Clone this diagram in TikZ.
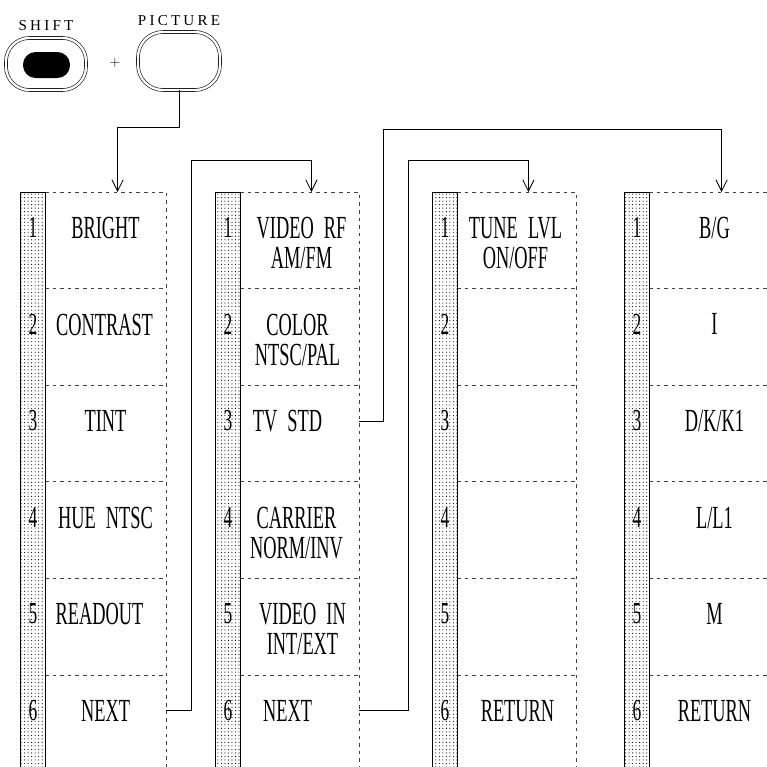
\documentclass[tikz,border=0pt]{standalone}
\usepackage{fontspec}
\usetikzlibrary{positioning, calc, arrows.meta, patterns}
\newfontfamily\panelfont{Liberation Serif}[FakeStretch=0.57, WordSpace=2.2]
\newfontfamily\keyfont{Liberation Serif}[LetterSpace=21]
\tikzset{
    cell/.style={anchor=north west, minimum height=28.98mm, inner sep=0pt, outer sep=0pt},
    rule/.style={draw=black!75, dash pattern=on 3pt off 3.5pt, line width=0.6pt},
    strip/.style={draw=black, line width=0.8pt, pattern=dots, pattern color=black},
    num/.style={font=\panelfont\fontsize{26}{26}\selectfont, anchor=north, inner sep=0pt},
    item/.style={font=\panelfont\fontsize{27.5}{25.6}\selectfont, anchor=north, align=center, inner sep=0pt},
    keycap/.style={draw, double, double distance=2pt, line width=0.5pt},
    keylabel/.style={font=\keyfont\fontsize{12.9}{13}\selectfont, inner sep=0pt},
    link/.style={-{Straight Barb[length=3.4mm, width=3.4mm]}, line width=0.7pt},
}
\begin{document}
\begin{tikzpicture}[x=0.3mm, y=-0.3mm]
    \useasboundingbox (0,0) rectangle (767,767);
    % keys
    \node[keycap, minimum width=24mm, minimum height=15.6mm, rounded corners=7mm] (shift) at (46,64) {};
    \node[fill=black, minimum width=14.1mm, minimum height=7.8mm, rounded corners=3.8mm, inner sep=0pt] (shiftcap) at (46.5,65) {};
    \node[keycap, minimum width=24.6mm, minimum height=17.4mm, rounded corners=7.5mm] (picture) at (179,61) {};
    \node[keylabel, above=2mm of shift] (shiftlbl) {SHIFT};
    \node[keylabel, above=1.6mm of picture] (picturelbl) {PICTURE};
    \node[font=\large] (plus) at (115,63) {+};

    % menu columns
    \foreach \x/\w [count=\i] in {45/121, 240/119, 457/119, 649/121} {
        \foreach \r in {1,...,6}
            \node[cell, minimum width=\w*0.3mm] (cell-\i-\r) at (\x, {192+96.6*(\r-1)}) {};
        \draw[rule] (cell-\i-1.north west) -- (cell-\i-1.north east) -- (\x+\w,800);
        \foreach \r in {1,...,5}
            \draw[rule] (cell-\i-\r.south west) -- (cell-\i-\r.south east);
        \draw[strip] (\x-24.5,192) rectangle (\x,800);
        \foreach \r in {1,...,6}
            \node[num] (num-\i-\r) at (\x-12, {217+96.6*(\r-1)}) {\r};
    }

    % menu entries
    \foreach \i/\r/\dx/\t in {1/1/0/BRIGHT, 1/2/-1/CONTRAST, 1/3/0/TINT, 1/4/0/HUE NTSC, 1/5/-6/READOUT, 1/6/0/NEXT,
        2/1/2/{VIDEO RF\\AM/FM}, 2/2/-2/{COLOR\\NTSC/PAL}, 2/3/-12/TV STD, 2/4/-3/{CARRIER\\NORM/INV}, 2/5/3/{VIDEO IN\\INT/EXT}, 2/6/-12/NEXT,
        3/1/-1/{TUNE LVL\\ON/OFF}, 3/6/1/RETURN,
        4/1/5/{B/G}, 4/2/5/I, 4/3/5/{D/K/K1}, 4/4/5/{L/L1}, 4/5/5/M, 4/6/5/RETURN}
        \node[item] (entry-\i-\r) at ($(cell-\i-\r.north)+(\dx,25)$) {\t};

    % links
    \coordinate (jog1) at (191,160);
    \coordinate (jog2) at (408,160);
    \coordinate (jog3) at (383,129);
    \draw[link] (picture.south) -- ++(0,37) -| ($(cell-1-1.north west)!0.6!(cell-1-1.north east)$);
    \draw[link] (cell-1-6.east |- entry-1-6) -| (jog1) -| ($(cell-2-1.north west)!0.6!(cell-2-1.north east)$);
    \draw[link] (cell-2-6.east |- entry-2-6) -| (jog2) -| ($(cell-3-1.north west)!0.6!(cell-3-1.north east)$);
    \draw[link] (cell-2-3.east |- entry-2-3) -| (jog3) -| ($(cell-4-1.north west)!0.6!(cell-4-1.north east)$);
\end{tikzpicture}
\end{document}
